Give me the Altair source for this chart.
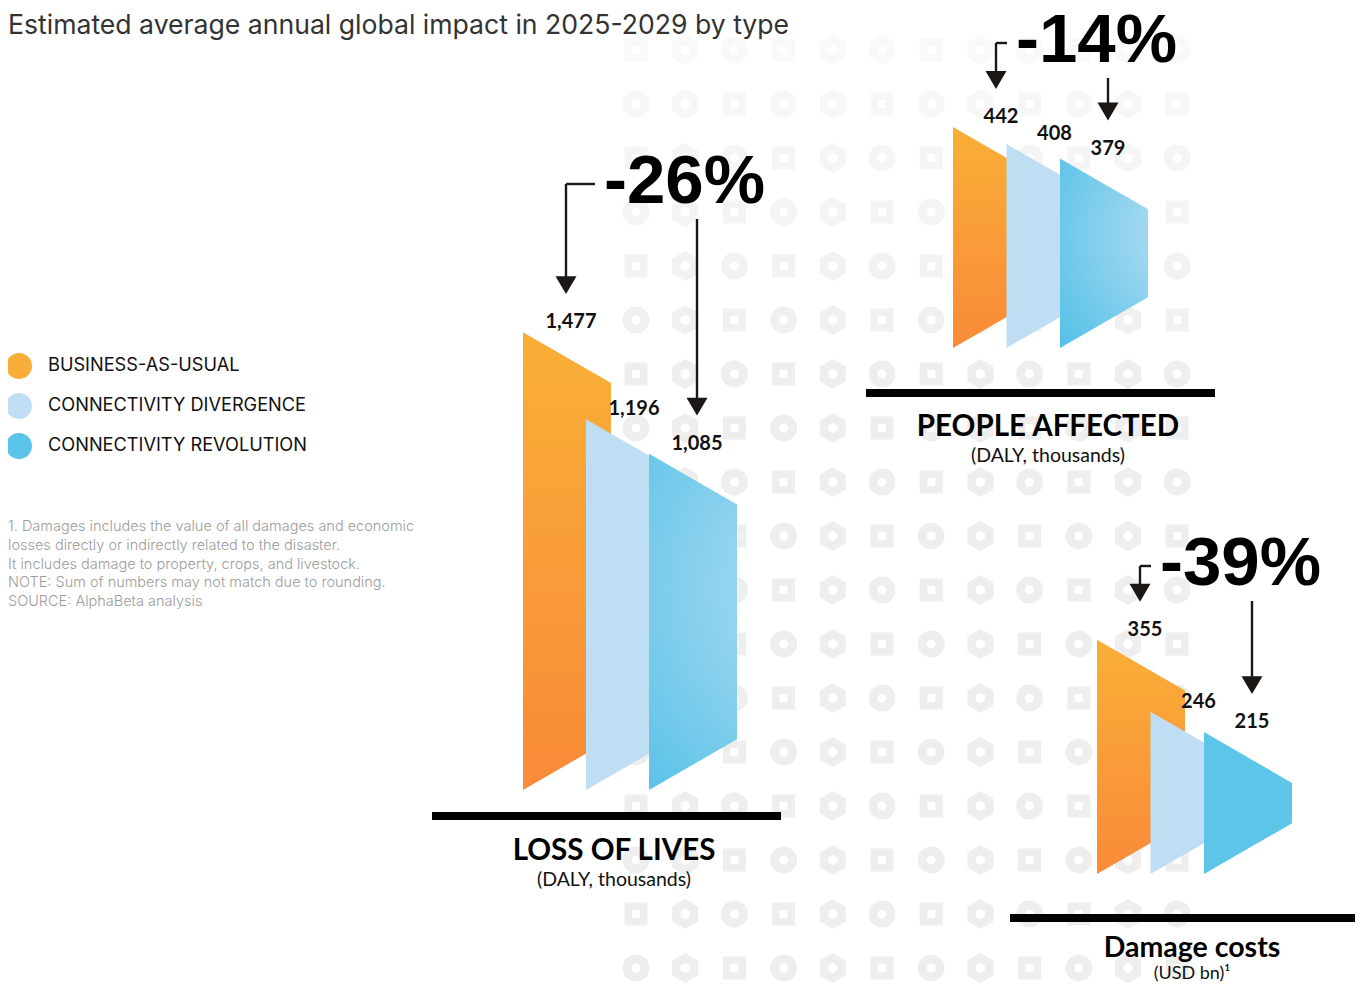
import math
import altair as alt
import pandas as pd

# ---------------- data ----------------
title_text = "Estimated average annual global impact in 2025-2029 by type"
scenarios = ["BUSINESS-AS-USUAL", "CONNECTIVITY DIVERGENCE", "CONNECTIVITY REVOLUTION"]
panel_names = ["LOSS OF LIVES", "PEOPLE AFFECTED", "Damage costs"]
panel_units = ["(DALY, thousands)", "(DALY, thousands)", "(USD bn)\u00b9"]
loss_of_lives = [1477, 1196, 1085]
people_affected = [442, 408, 379]
damage_costs = [355, 246, 215]
change_labels = ["-26%", "-14%", "-39%"]
footnote_lines = [
    "1. Damages includes the value of all damages and economic",
    "losses directly or indirectly related to the disaster.",
    "It includes damage to property, crops, and livestock.",
    "NOTE: Sum of numbers may not match due to rounding.",
    "SOURCE: AlphaBeta analysis",
]
panel_values = [loss_of_lives, people_affected, damage_costs]

# ---------------- layout / style ----------------
# positions below are page pixels; the plot area starts at the 8px page margin
W, H = 1347, 976
xs = alt.Scale(domain=[8, 8 + W], nice=False, zero=False)
ys = alt.Scale(domain=[8, 8 + H], nice=False, zero=False, reverse=True)
X = alt.X("x:Q", scale=xs, axis=None)
Y = alt.Y("y:Q", scale=ys, axis=None)

scen_colors = ["#F9AE3A", "#BFDDF3", "#5BC4E8"]
layout = [
    dict(x0=523, step=63, base=790, k=0.31, bar=(432, 781, 816), cx=614, name_y=851, unit_y=880,
         pct_x=604, pct_y=203, name_size=29.5, unit_size=19.5),
    dict(x0=953, step=53.5, base=348, k=0.50, bar=(866, 1215, 393), cx=1048, name_y=427, unit_y=456,
         pct_x=1016, pct_y=62, name_size=29.5, unit_size=19.5),
    dict(x0=1097, step=53.5, base=874, k=0.66, bar=(1010, 1360, 918), cx=1192, name_y=948, unit_y=974,
         pct_x=1160, pct_y=585, name_size=28.5, unit_size=18),
]
SHAPE_W = 88
DROP = SHAPE_W * math.tan(math.radians(30))

# ---------------- derived tables ----------------
shape_rows, label_rows = [], []
for p, (vals, L) in enumerate(zip(panel_values, layout)):
    for j, v in enumerate(vals):
        h = v * L["k"]
        left = L["x0"] + j * L["step"]
        top = L["base"] - h
        sid = f"{p}-{j}"
        shape_rows.append(dict(id=sid, panel=p, scen=j, x=left, y=top, y2=L["base"]))
        shape_rows.append(dict(id=sid, panel=p, scen=j, x=left + SHAPE_W, y=top + DROP, y2=L["base"] - DROP))
        label_rows.append(dict(panel=p, scen=j, x=left + 48, y=top - 10, v=v))
shapes = pd.DataFrame(shape_rows)
labels = pd.DataFrame(label_rows)

rule_rows, head_rows, pct_rows, bar_rows, name_rows, unit_rows = [], [], [], [], [], []
for p, L in enumerate(layout):
    bau = labels[(labels.panel == p) & (labels.scen == 0)].iloc[0]
    rev = labels[(labels.panel == p) & (labels.scen == 2)].iloc[0]
    by = L["pct_y"] - 19
    bx = bau.x - 5
    tip = bau.y - 28
    rule_rows.append(dict(x=L["pct_x"] - 9, y=by, x2=bx, y2=by))
    rule_rows.append(dict(x=bx, y=by, x2=bx, y2=tip - 10))
    head_rows.append(dict(x=bx, y=tip - 9))
    rtip = rev.y - 28
    rule_rows.append(dict(x=rev.x, y=L["pct_y"] + 16, x2=rev.x, y2=rtip - 10))
    head_rows.append(dict(x=rev.x, y=rtip - 9))
    pct_rows.append(dict(x=L["pct_x"], y=L["pct_y"], t=change_labels[p]))
    bar_rows.append(dict(x=L["bar"][0], x2=L["bar"][1], y=L["bar"][2]))
    name_rows.append(dict(x=L["cx"], y=L["name_y"], t=panel_names[p], s=L["name_size"]))
    unit_rows.append(dict(x=L["cx"], y=L["unit_y"], t=panel_units[p], s=L["unit_size"]))

# background icon pattern
pat_rows = []
for r in range(18):
    y = 50 + 54 * r
    g = int(round(249 - min(r, 6) * (249 - 238) / 6))
    col = f"#{g:02x}{g:02x}{g:02x}"
    for c in range(12):
        x = 636 + 49.2 * c
        kind = "hex" if c % 3 == 1 else ("square" if (c % 3 == 0) == (r % 2 == 0) else "ring")
        pat_rows.append(dict(x=x, y=y, kind=kind, col=col))
pat = pd.DataFrame(pat_rows)

HEX = "M0,-1L0.866,-0.5L0.866,0.5L0,1L-0.866,0.5L-0.866,-0.5Z"
ARROW = "M-1,-0.85L1,-0.85L0,0.85Z"


def points(df, shape, size, color=None, field=None):
    m = alt.Chart(df).mark_point(shape=shape, size=size, filled=True, opacity=1, strokeWidth=0,
                                 **({"color": color} if color else {}))
    enc = dict(x=X, y=Y)
    if field:
        enc["color"] = alt.Color(f"{field}:N", scale=None, legend=None)
    return m.encode(**enc)


layers = []
outer = {"ring": ("circle", 729), "square": ("square", 529), "hex": (HEX, 900)}
inner = {"ring": ("circle", 81), "square": ("square", 64), "hex": (HEX, 110)}
for kind in ["ring", "square", "hex"]:
    sub = pat[pat.kind == kind]
    layers.append(points(sub, outer[kind][0], outer[kind][1], field="col"))
    layers.append(points(sub, inner[kind][0], inner[kind][1], color="white"))

# baselines
layers.append(
    alt.Chart(pd.DataFrame(bar_rows)).mark_rule(strokeWidth=8, color="black", strokeCap="butt")
    .encode(x=X, x2="x2:Q", y=Y)
)

# trapezoid shapes
orange_grad = alt.Gradient(
    gradient="linear", x1=0, y1=0, x2=0, y2=1,
    stops=[alt.GradientStop(color="#F9AF37", offset=0), alt.GradientStop(color="#F98A39", offset=1)],
)
blue_grad = {
    "gradient": "radial", "x1": 0.95, "y1": 0.4, "r1": 0, "x2": 0.95, "y2": 0.4, "r2": 0.95,
    "stops": [{"offset": 0, "color": "#BCDFF4"}, {"offset": 1, "color": "#4DBFE6"}],
}


def area(df, color):
    return alt.Chart(df).mark_area(color=color, opacity=1, interpolate="linear").encode(
        x=X, y=Y, y2="y2:Q", detail="id:N"
    )


layers.append(area(shapes[shapes.scen == 0], orange_grad))
layers.append(area(shapes[shapes.scen == 1], "#BFDDF3"))
layers.append(area(shapes[(shapes.scen == 2) & (shapes.panel < 2)], blue_grad))
layers.append(area(shapes[(shapes.scen == 2) & (shapes.panel == 2)], "#5DC5E8"))

# value labels
layers.append(
    alt.Chart(labels).mark_text(font="Lato", fontWeight="bold", fontSize=20, color="#111111",
                                align="center", baseline="middle")
    .encode(x=X, y=Y, text=alt.Text("v:Q", format=","))
)

# arrows
layers.append(
    alt.Chart(pd.DataFrame(rule_rows)).mark_rule(strokeWidth=2.4, color="#1a1714")
    .encode(x=X, y=Y, x2="x2:Q", y2="y2:Q")
)
layers.append(points(pd.DataFrame(head_rows), ARROW, 441, color="#1a1714"))

# change percentages
layers.append(
    alt.Chart(pd.DataFrame(pct_rows)).mark_text(font="Liberation Sans", fontWeight="bold", fontSize=69,
                                                color="#000000", align="left", baseline="alphabetic")
    .encode(x=X, y=Y, text="t:N")
)

# panel names & units
layers.append(
    alt.Chart(pd.DataFrame(name_rows)).mark_text(font="Lato", fontWeight="bold",
                                                 color="#000000", align="center", baseline="middle")
    .encode(x=X, y=Y, text="t:N", size=alt.Size("s:Q", scale=None, legend=None))
)
layers.append(
    alt.Chart(pd.DataFrame(unit_rows)).mark_text(font="Lato", color="#111111",
                                                 align="center", baseline="middle")
    .encode(x=X, y=Y, text="t:N", size=alt.Size("s:Q", scale=None, legend=None))
)

# legend
leg = pd.DataFrame({"x": [19] * 3, "y": [366, 406, 446], "col": scen_colors, "t": scenarios,
                    "tx": [48] * 3})
layers.append(points(leg, "circle", 676, field="col"))
layers.append(
    alt.Chart(leg).mark_text(font="Inter", fontSize=18.2, color="#111111", align="left", baseline="middle")
    .encode(x=alt.X("tx:Q", scale=xs, axis=None), y=Y, text="t:N")
)

# title
layers.append(
    alt.Chart(pd.DataFrame({"x": [8], "y": [26], "t": [title_text]}))
    .mark_text(font="Inter", fontSize=26.6, color="#333333", align="left", baseline="middle")
    .encode(x=X, y=Y, text="t:N")
)

# footnotes
foot = pd.DataFrame({"x": [8] * 5, "y": [527, 546, 565, 583, 602], "t": footnote_lines})
layers.append(
    alt.Chart(foot).mark_text(font="Inter", fontSize=14.5, fontWeight=300, color="#9c9c9c",
                              align="left", baseline="middle")
    .encode(x=X, y=Y, text="t:N")
)

chart = (
    alt.layer(*layers)
    .properties(width=W, height=H, autosize=alt.AutoSizeParams(type="none"), padding=0,
                background="white")
    .configure_view(stroke=None)
)
chart.save("out.html", embed_options={"renderer": "svg", "actions": False})
